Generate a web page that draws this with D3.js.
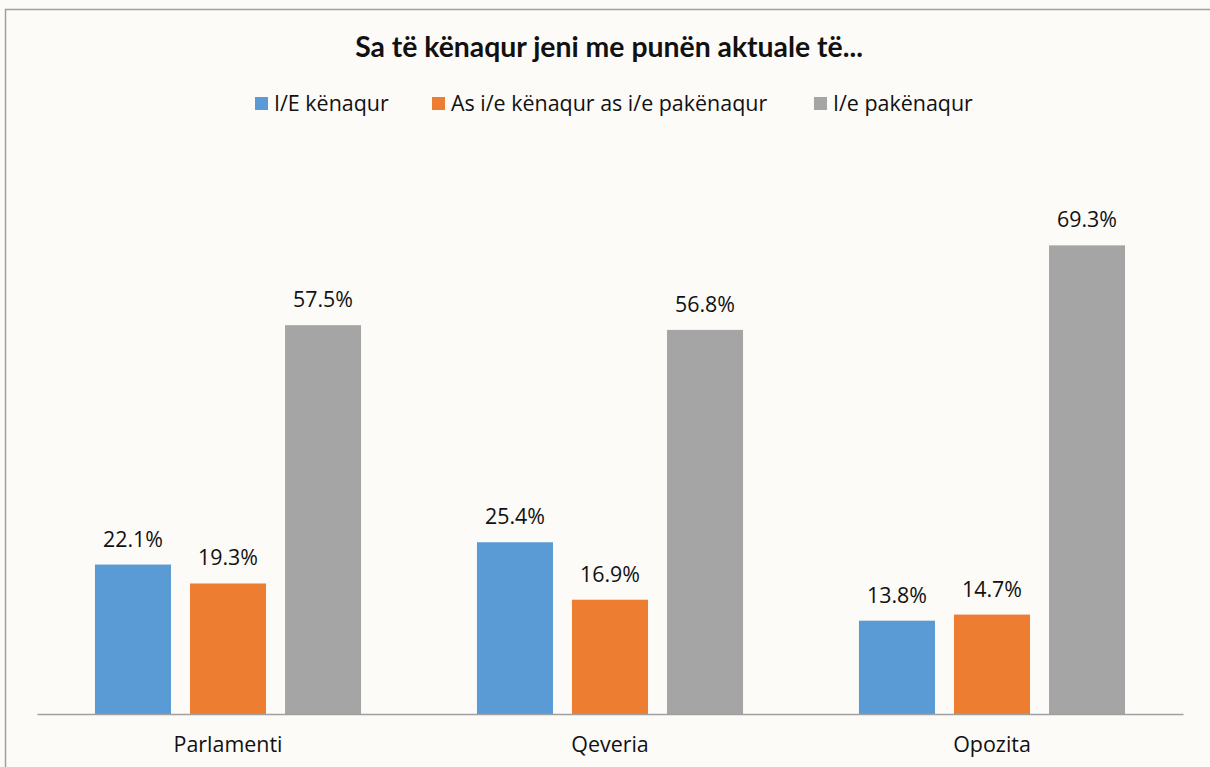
<!DOCTYPE html>
<html><head><meta charset="utf-8">
<script src="https://cdn.jsdelivr.net/npm/d3@7"></script>
<style>html,body{margin:0;padding:0;background:#fcfbf8;}svg{display:block;}</style>
</head><body>
<svg id="c" width="1210" height="767"></svg>
<script>
const categories = ["Parlamenti", "Qeveria", "Opozita"];
const seriesNames = ["I/E kënaqur", "As i/e kënaqur as i/e pakënaqur", "I/e pakënaqur"];
const seriesColors = ["#5b9bd5", "#ed7d31", "#a5a5a5"];
const kenaqur = [22.1, 25.4, 13.8];
const asNeutral = [19.3, 16.9, 14.7];
const pakenaqur = [57.5, 56.8, 69.3];
const title = "Sa të kënaqur jeni me punën aktuale të...";

(function(){
const series = [kenaqur, asNeutral, pakenaqur];
const svg = d3.select("#c");
const font = "'Open Sans', 'Noto Sans', sans-serif";
const tfont = "Lato, 'Open Sans', sans-serif";

// font size that makes a string reach a given width
function fitSize(str, family, weight, width) {
  const t = svg.append("text").attr("font-family", family).attr("font-weight", weight)
    .attr("font-size", 100).text(str);
  const w = t.node().getComputedTextLength();
  t.remove();
  return 100 * width / w;
}
const labelSize = fitSize("57.5%", font, "normal", 60);
const catSize = fitSize("Parlamenti", font, "normal", 109);
const legSize = fitSize("I/e pakënaqur", font, "normal", 140);
const titleSize = fitSize(title, tfont, "bold", 508);

svg.append("rect").attr("x",0).attr("y",0).attr("width",1210).attr("height",767).attr("fill","#fcfbf8");
svg.append("path").attr("d","M5.5,767 V9.5 H1210").attr("fill","none").attr("stroke","#a0a0a0").attr("stroke-width",1.5);

const pLeft = 37, pRight = 1183, pBase = 714, pTop = 173;
const x0 = d3.scaleBand().domain(categories).range([pLeft, pRight]).paddingInner(0).paddingOuter(0);
const x1 = d3.scaleBand().domain(d3.range(3)).range([0, x0.bandwidth()]).paddingInner(0.2).paddingOuter(0.61);
const y = d3.scaleLinear().domain([0, 80]).range([pBase, pTop]);

const g = svg.append("g");
categories.forEach((c, ci) => {
  series.forEach((s, si) => {
    const v = s[ci];
    const bx = x0(c) + x1(si);
    g.append("rect").attr("x", bx).attr("y", y(v)).attr("width", x1.bandwidth())
      .attr("height", pBase - y(v)).attr("fill", seriesColors[si]);
    g.append("text").attr("x", bx + x1.bandwidth()/2).attr("y", y(v) - 18)
      .attr("text-anchor","middle").attr("font-family",font).attr("font-size",labelSize)
      .attr("fill","#111").text(v.toFixed(1) + "%");
  });
});

const xAxis = svg.append("g").attr("transform",`translate(0,${pBase})`)
  .call(d3.axisBottom(x0).tickSize(0).tickPadding(0));
xAxis.select(".domain").attr("stroke","#a0a0a0").attr("stroke-width",1.5);
xAxis.selectAll(".tick text").attr("dy", null).attr("y", 38)
  .attr("font-family",font).attr("font-size",catSize).attr("fill","#111");

svg.append("text").attr("x",609).attr("y",57).attr("text-anchor","middle")
  .attr("font-family",tfont).attr("font-weight","bold").attr("font-size",titleSize).attr("fill","#111").text(title);

const legX = [255, 432, 814];
seriesNames.forEach((n, i) => {
  svg.append("rect").attr("x", legX[i]).attr("y", 97).attr("width", 13).attr("height", 13).attr("fill", seriesColors[i]);
  svg.append("text").attr("x", legX[i] + 19).attr("y", 111).attr("font-family",font).attr("font-size",legSize)
    .attr("fill","#111").text(n);
});
})();
</script>
</body></html>
